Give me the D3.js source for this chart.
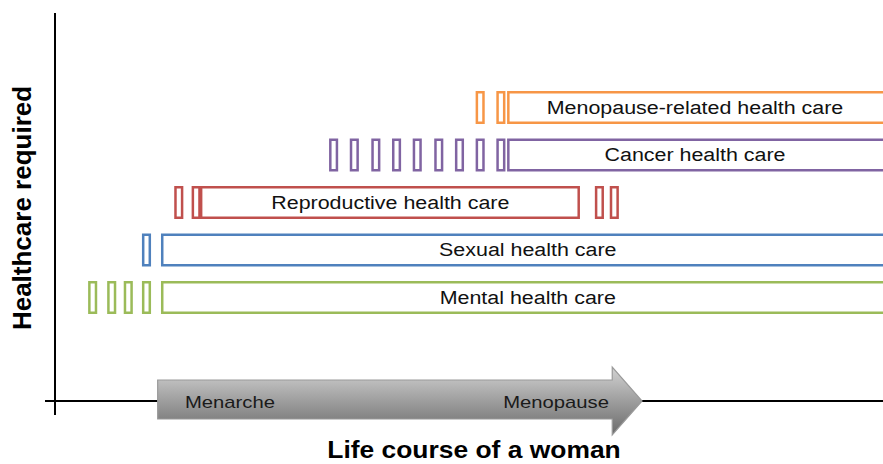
<!DOCTYPE html>
<html>
<head>
<meta charset="utf-8">
<script src="https://cdn.jsdelivr.net/npm/d3@7"></script>
<style>
  body { margin: 0; background: #fff; }
  text { font-family: Arial, "Liberation Sans", sans-serif; }
</style>
</head>
<body>
<svg id="chart" width="883" height="464"></svg>
<script>
// rows of care, top to bottom
var rows = ['Menopause-related health care', 'Cancer health care', 'Reproductive health care', 'Sexual health care', 'Mental health care'];
var colors = ['#F79646', '#8064A2', '#C0504D', '#4F81BD', '#9BBB59'];
// positions along the life course (0..100)
var mainStart = [54.6, 54.6, 17.5, 12.8, 12.8];
var mainEnd = [101, 101, 63.4, 102, 102];
var labelAt = [77.3, 77.3, 40.5, 57.1, 57.1];
var preBoxes = [
    [50.8, 53.3],
    [33.1, 35.6, 38.2, 40.7, 43.2, 45.8, 48.3, 50.8, 53.3],
    [14.4, 16.5],
    [10.5],
    [4.0, 6.3, 8.3, 10.5]
];
var postBoxes = [[], [], [65.2, 67.0], [], []];
var milestones = ['Menarche', 'Menopause'];
var arrowStart = 12.4, arrowHeadStart = 67.3, arrowEnd = 70.9;

var svg = d3.select('#chart'),
    width = +svg.attr('width'),
    height = +svg.attr('height');
var sw = 2.5, boxW = 1.1, stretch = 1.19;

var x = d3.scaleLinear().domain([0, 100]).range([55, 883]);
var y = d3.scalePoint().domain(rows).range([91, 281]);
var rowH = 33;
var axisY = 401;

// widen text a bit, the original looks horizontally stretched
function widen(sel, f) {
    sel.each(function () {
        var len = this.getComputedTextLength();
        d3.select(this).attr('textLength', len * f).attr('lengthAdjust', 'spacingAndGlyphs');
    });
}

// axes
svg.append('line').attr('x1', 55).attr('x2', 55).attr('y1', 13).attr('y2', 415)
    .attr('stroke', '#000').attr('stroke-width', 2);
svg.append('line').attr('x1', 45).attr('x2', width).attr('y1', axisY).attr('y2', axisY)
    .attr('stroke', '#000').attr('stroke-width', 2);

// arrow
var defs = svg.append('defs');
var grad = defs.append('linearGradient').attr('id', 'arrowGrad')
    .attr('x1', 0).attr('y1', 0).attr('x2', 0).attr('y2', 1);
grad.append('stop').attr('offset', '0%').attr('stop-color', '#d2d2d2');
grad.append('stop').attr('offset', '100%').attr('stop-color', '#6a6a6a');
var bTop = 380, bBot = 419, hTop = 367, hBot = 435;
var ax0 = x(arrowStart), ax1 = x(arrowHeadStart), ax2 = x(arrowEnd);
var arrowPts = [[ax0, bTop], [ax1, bTop], [ax1, hTop], [ax2, axisY], [ax1, hBot], [ax1, bBot], [ax0, bBot]];
svg.append('path').attr('d', d3.line()(arrowPts) + 'Z')
    .attr('fill', 'url(#arrowGrad)').attr('stroke', '#9a9a9a').attr('stroke-width', 1.2);
svg.append('text').attr('x', 185).attr('y', axisY + 7).text(milestones[0])
    .attr('font-size', 17).attr('fill', '#1a1a1a').call(widen, stretch);
svg.append('text').attr('x', 609).attr('y', axisY + 7).attr('text-anchor', 'end').text(milestones[1])
    .attr('font-size', 17).attr('fill', '#1a1a1a').call(widen, stretch);

// rows
var row = svg.selectAll('.row').data(rows).enter().append('g').attr('class', 'row');
row.each(function (d, i) {
    var g = d3.select(this), top = y(d);
    var small = preBoxes[i].concat(postBoxes[i]);
    g.selectAll('.small').data(small).enter().append('rect')
        .attr('class', 'small')
        .attr('x', function (v) { return x(v) + sw / 2; })
        .attr('y', top + sw / 2)
        .attr('width', function (v) { return x(v + boxW) - x(v) - sw; })
        .attr('height', rowH - sw)
        .attr('fill', 'none').attr('stroke', colors[i]).attr('stroke-width', sw);
    g.append('rect')
        .attr('x', x(mainStart[i]) + sw / 2)
        .attr('y', top + sw / 2)
        .attr('width', x(mainEnd[i]) - x(mainStart[i]) - sw)
        .attr('height', rowH - sw)
        .attr('fill', 'none').attr('stroke', colors[i]).attr('stroke-width', sw);
    g.append('text')
        .attr('x', x(labelAt[i])).attr('y', top + rowH / 2 + 6)
        .attr('text-anchor', 'middle').attr('font-size', 18).attr('fill', '#111')
        .text(d).call(widen, stretch);
});

// axis titles
svg.append('text').attr('transform', 'translate(31,208) rotate(-90)')
    .attr('text-anchor', 'middle').attr('font-size', 26).attr('font-weight', 'bold')
    .text('Healthcare required');
svg.append('text').attr('x', 474).attr('y', 458)
    .attr('text-anchor', 'middle').attr('font-size', 24).attr('font-weight', 'bold')
    .text('Life course of a woman').call(widen, 1.1);
</script>
</body>
</html>
